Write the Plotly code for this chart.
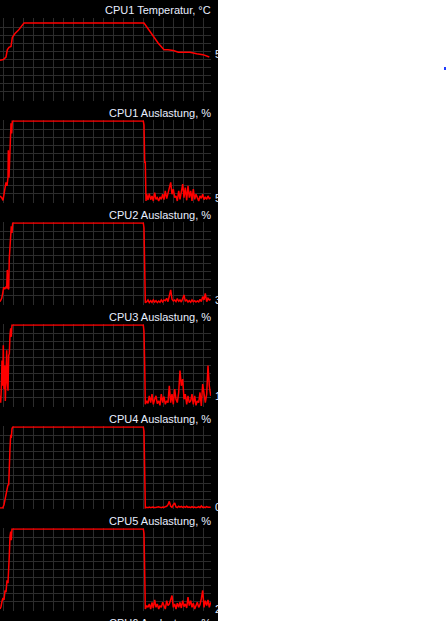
import plotly.graph_objects as go

# window / panel geometry (px)
W, H = 447, 621
DARK_W = 218          # black area on the left
PLOT_R = 211          # right edge of the graphs
PANEL_TOP = 19
PANEL_PITCH = 102
PANEL_H = 81

titles = ["CPU1 Temperatur, °C", "CPU1 Auslastung, %", "CPU2 Auslastung, %",
          "CPU3 Auslastung, %", "CPU4 Auslastung, %", "CPU5 Auslastung, %",
          "CPU6 Auslastung, %"]
current_labels = ["53", "5", "3", "12", "0", "2"]
label_y_px = [54.5, 198.5, 300, 396, 507, 609]

# temperature, °C
temp_t = [0, 3.3, 6, 7.3, 9, 11, 12.3, 15, 18.3, 21.7, 24, 144, 148.3, 153.3,
          158.3, 164, 168, 173.3, 178.3, 184, 190, 196.7, 203, 209.3]
temp_v = [49, 50, 53, 62, 65, 66, 77, 82, 86, 91, 95, 95, 87, 78,
          70, 62, 62, 61, 59, 59, 59, 57, 56, 53]

# shared sample times of the idle tail
tail_t = [146.7, 148.0, 149.3, 150.7, 152.0, 153.3, 154.7, 156.0, 157.3, 158.7,
          160.0, 161.3, 162.7, 164.0, 165.3, 166.7, 168.0, 169.3, 170.7, 172.0,
          173.3, 174.7, 176.0, 177.3, 178.7, 180.0, 181.3, 182.7, 184.0, 185.3,
          186.7, 188.0, 189.3, 190.7, 192.0, 193.3, 194.7, 196.0, 197.3, 198.7,
          200.0, 201.3, 202.7, 204.0, 205.3, 206.7, 208.0, 209.3, 210.7]

# CPU1 load, %
cpu1_t = [0, 1.7, 3, 4, 5, 6, 7, 8, 8.3, 9, 9.7, 10.3, 11, 11.7, 12.3,
          143.3, 144, 144.7, 145.3, 146]
cpu1_v = [7.5, 5.4, 2.1, 13.8, 17.1, 24.2, 20, 30.4, 63.8, 30.4, 63.8, 86.7, 97.1, 84.6, 100,
          100, 95, 49.2, 49.2, 1.3]
cpu1_tail = [9.6, 2.5, 10.4, 2.9, 7.5, 1.3, 11.7, 3.3, 5.4, 1.3,
             6.3, 3.3, 9.6, 2.9, 13.8, 4.2, 11.7, 17.9, 24.2, 9.6,
             15.8, 5.4, 7.5, 1.3, 13.8, 3.3, 15.8, 22.1, 5.4, 17.9,
             2.1, 20.0, 5.4, 13.8, 1.3, 15.8, 3.3, 9.6, 5.4, 1.3,
             7.5, 4.6, 9.6, 2.9, 6.3, 3.3, 7.5, 4.2, 5.4]

# CPU2 load, %
cpu2_t = [0, 1.7, 2.7, 3.7, 4.7, 5.7, 6.7, 7.3, 8, 8.7, 9.3, 10, 10.7, 11.3, 12, 12.7,
          143.3, 144, 144.7, 145.3]
cpu2_v = [2.9, 7, 13.2, 20.7, 18.2, 20.7, 19.4, 42.1, 19.4, 18.2, 56.6, 71.1, 89.7, 95.9, 87.6, 100,
          100, 93.8, 44.2, 1.7]
cpu2_tail = [2.9, 5.0, 1.7, 4.1, 2.1, 5.0, 2.5, 4.1, 1.7, 3.7,
             2.1, 5.0, 2.5, 5.0, 4.1, 7.0, 2.9, 9.1, 17.4, 5.8,
             3.7, 5.0, 2.9, 6.6, 3.3, 5.0, 2.5, 6.6, 11.2, 3.3,
             5.0, 2.5, 4.1, 2.1, 5.0, 2.9, 4.1, 2.5, 3.7, 2.5,
             5.8, 2.9, 9.1, 5.0, 13.2, 2.9, 7.0, 5.0, 5.8]

# CPU3 load, %
cpu3_t = [0, 0.7, 1.3, 2, 2.7, 3.3, 4, 4.7, 5.3, 6, 6.7, 7.3, 8, 8.7, 9.3, 10, 10.7, 11.3, 12,
          143.3, 144, 144.7, 145.3]
cpu3_v = [12.5, 4.2, 20.8, 56.3, 25, 75, 20.8, 50, 6.3, 41.7, 68.8, 29.2, 18.8, 62.5, 64.6,
          87.5, 95.8, 85.4, 100,
          100, 91.7, 50, 2.1]
cpu3_tail = [6.3, 3.3, 12.5, 4.2, 14.6, 2.1, 8.3, 12.5, 2.9, 6.3,
             0.8, 14.6, 4.2, 11.7, 2.1, 6.3, 4.2, 25.0, 4.2, 14.6,
             2.1, 20.8, 8.3, 4.2, 16.7, 43.8, 25.0, 33.3, 8.3, 14.6,
             2.1, 12.5, 4.2, 6.3, 14.6, 2.1, 12.5, 0.8, 6.3, 4.2,
             16.7, 0.0, 27.1, 12.5, 4.2, 14.6, 50.0, 25.0, 12.5]

# CPU4 load, %
cpu4_t = [0, 2.7, 4, 5, 6, 6.7, 7.3, 8, 8.7, 9.3, 10, 10.7, 11.3, 12, 12.7,
          143.3, 144, 144.7, 145.3]
cpu4_v = [0, 0, 4.1, 10.3, 14.4, 18.5, 24.7, 28.8, 28, 61.7, 74.1, 90.5, 86.4, 97.9, 100,
          100, 94.7, 45.3, 0]
cpu4_tail = [0.8, 0.4, 1.2, 0.4, 0.8, 1.2, 0.4, 0.8, 0.4, 1.6,
             0.8, 0.4, 1.2, 0.8, 1.6, 2.1, 4.1, 8.2, 2.1, 0.8,
             4.1, 6.2, 1.2, 0.4, 2.1, 1.2, 2.1, 0.8, 1.6, 0.8,
             2.1, 0.8, 1.2, 0.4, 1.6, 0.8, 1.2, 0.4, 0.8, 1.6,
             0.4, 2.5, 0.8, 1.2, 0.4, 1.6, 0.8, 0.4, 0.8]

# CPU5 load, %
cpu5_t = [0, 1, 2, 3, 4, 5, 6, 7, 8, 8.7, 9.3, 10, 10.7, 11.3, 12,
          143.3, 144, 144.7, 145.3]
cpu5_v = [1.2, 4.1, 10.8, 14.9, 12.4, 24.1, 22, 36.5, 33.2, 65.6, 67.6, 90.5, 96.7, 86.3, 100,
          100, 94.6, 46.9, 1.2]
cpu5_tail = [5.4, 3.3, 7.5, 1.2, 9.5, 2.5, 12.4, 3.3, 7.5, 1.2,
             5.4, 3.3, 9.5, 4.1, 1.2, 11.6, 5.4, 7.5, 13.7, 17.8,
             3.3, 7.5, 1.2, 8.3, 3.3, 9.5, 2.5, 11.6, 4.1, 7.5,
             2.5, 15.8, 5.4, 11.6, 3.3, 8.3, 1.2, 5.4, 9.5, 3.3,
             6.6, 13.7, 24.1, 3.3, 11.6, 5.4, 12.4, 3.3, 9.5]

series = [
    (temp_t, temp_v),
    (cpu1_t + tail_t, cpu1_v + cpu1_tail),
    (cpu2_t + tail_t, cpu2_v + cpu2_tail),
    (cpu3_t + tail_t, cpu3_v + cpu3_tail),
    (cpu4_t + tail_t, cpu4_v + cpu4_tail),
    (cpu5_t + tail_t, cpu5_v + cpu5_tail),
]

GRID = "#2c2c2c"
TEXT = "#e8eeff"
FONT = "Liberation Sans"


def py(px):
    return 1 - px / H


fig = go.Figure()
layout = dict(
    width=W, height=H,
    margin=dict(l=0, r=0, t=0, b=0),
    paper_bgcolor="white",
    plot_bgcolor="black",
    showlegend=False,
)

pad = PANEL_H * 0.01  # one value unit above 100 and below 0
for i, (t, v) in enumerate(series):
    n = "" if i == 0 else str(i + 1)
    top = PANEL_TOP + PANEL_PITCH * i - pad
    bot = PANEL_TOP + PANEL_PITCH * i + PANEL_H + pad
    fig.add_trace(go.Scatter(x=t, y=v, mode="lines", xaxis="x" + n, yaxis="y" + n,
                             line=dict(color="#ff0000", width=1.5), hoverinfo="skip"))
    layout["xaxis" + n] = dict(domain=[0, PLOT_R / W], range=[0, PLOT_R], anchor="y" + n,
                               tick0=3.3, dtick=10, showgrid=True, gridcolor=GRID, gridwidth=1,
                               showticklabels=False, zeroline=False, ticks="", fixedrange=True)
    layout["yaxis" + n] = dict(domain=[py(bot), py(top)], range=[-1, 101], anchor="x" + n,
                               tick0=0, dtick=10, showgrid=True, gridcolor=GRID, gridwidth=1,
                               showticklabels=False, zeroline=False, ticks="", fixedrange=True)

fig.update_layout(**layout)

# black monitor window on the left
fig.add_shape(type="rect", xref="paper", yref="paper", x0=0, x1=DARK_W / W, y0=0, y1=1,
              fillcolor="black", line=dict(width=0), layer="below")
# small blue speck at the right
fig.add_shape(type="rect", xref="paper", yref="paper", x0=444 / W, x1=446 / W,
              y0=py(70), y1=py(67), fillcolor="#1f3cff", line=dict(width=0))

for i, title in enumerate(titles):
    fig.add_annotation(text=title, xref="paper", yref="paper", x=212.5 / W, xanchor="right",
                       y=py(10.5 + PANEL_PITCH * i), yanchor="middle", showarrow=False,
                       font=dict(family=FONT, size=11, color=TEXT))

for lab, ypx in zip(current_labels, label_y_px):
    fig.add_annotation(text=lab, xref="paper", yref="paper", x=212.5 / W, xanchor="left",
                       y=py(ypx), yanchor="middle", showarrow=False,
                       font=dict(family=FONT, size=11, color=TEXT))

# the monitor window cuts the value labels at its right edge
fig.add_annotation(text=" ", xref="paper", yref="paper", x=DARK_W / W, xanchor="left",
                   y=0.5, yanchor="middle", showarrow=False, width=30, height=H + 10,
                   bgcolor="white", borderpad=0, font=dict(color="white", size=11))

# page has no body margin, the chart starts in the top-left corner
fig.write_html("out.html", config={"displayModeBar": False},
               post_script="document.body.style.margin='0';")
